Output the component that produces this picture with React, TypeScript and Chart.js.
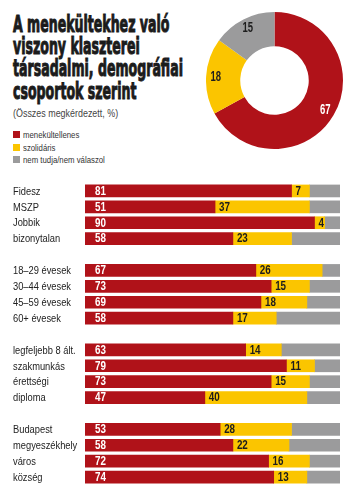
import React, { useEffect, useLayoutEffect, useRef } from "react";
import { Chart, registerables } from "chart.js";
Chart.register(...registerables);

const RED = "#b01219";
const YELLOW = "#fbc500";
const GREY = "#9b9b9c";
const SANS = '"Liberation Sans", Arial, sans-serif';
const HEAVY = '"DejaVu Sans Condensed", "DejaVu Sans", sans-serif';

const titleLines = ["A menekültekhez való", "viszony klaszterei", "társadalmi, demográfiai", "csoportok szerint"];
const subtitle = "(Összes megkérdezett, %)";
const seriesNames = ["menekültellenes", "szolidáris", "nem tudja/nem válaszol"];

const donutValues = [67, 18, 15];

const categories = [
  "Fidesz", "MSZP", "Jobbik", "bizonytalan", "",
  "18–29 évesek", "30–44 évesek", "45–59 évesek", "60+ évesek", "",
  "legfeljebb 8 ált.", "szakmunkás", "érettségi", "diploma", "",
  "Budapest", "megyeszékhely", "város", "község",
];
const antiValues = [81, 51, 90, 58, null, 67, 73, 69, 58, null, 63, 79, 73, 47, null, 53, 58, 72, 74];
const solidaryValues = [7, 37, 4, 23, null, 26, 15, 18, 17, null, 14, 11, 15, 40, null, 28, 22, 16, 13];
const unknownValues = [12, 12, 6, 19, null, 7, 12, 13, 25, null, 23, 10, 12, 13, null, 19, 20, 12, 13];

function narrowText(ctx: CanvasRenderingContext2D, text: string, x: number, y: number, sx: number, align: CanvasTextAlign) {
  ctx.save();
  ctx.translate(x, y);
  ctx.scale(sx, 1);
  ctx.textAlign = align;
  ctx.fillText(text, 0, 0);
  ctx.restore();
}

const barLabelPlugin = {
  id: "barLabels",
  afterDatasetsDraw(chart: any) {
    const ctx = chart.ctx;
    ctx.save();
    ctx.textBaseline = "middle";
    const ys = chart.scales.y;
    ctx.font = `11.8px ${SANS}`;
    ctx.fillStyle = "#222";
    chart.data.labels.forEach((lab: string, i: number) => {
      if (!lab) return;
      narrowText(ctx, lab, 13, ys.getPixelForTick(i) + 0.5, 0.79, "left");
    });
    ctx.font = `bold 12px ${SANS}`;
    [0, 1].forEach((di) => {
      const meta = chart.getDatasetMeta(di);
      const data = chart.data.datasets[di].data;
      meta.data.forEach((el: any, i: number) => {
        const v = data[i];
        if (v == null) return;
        const p = el.getProps(["x", "y", "base"], true);
        const start = Math.min(p.x, p.base);
        ctx.fillStyle = di === 0 ? "#ffffff" : "#1d1d1d";
        narrowText(ctx, String(v), start + (di === 0 ? 10 : 4), p.y + 0.5, 0.82, "left");
      });
    });
    ctx.restore();
  },
};

const donutLabelPlugin = {
  id: "donutLabels",
  afterDatasetsDraw(chart: any) {
    const ctx = chart.ctx;
    ctx.save();
    ctx.font = `bold 14px ${SANS}`;
    ctx.textBaseline = "middle";
    const meta = chart.getDatasetMeta(0);
    const data = chart.data.datasets[0].data;
    meta.data.forEach((el: any, i: number) => {
      const p = el.getProps(["x", "y", "startAngle", "endAngle", "innerRadius", "outerRadius"], true);
      const a = (p.startAngle + p.endAngle) / 2;
      const r = p.innerRadius + 0.72 * (p.outerRadius - p.innerRadius);
      ctx.fillStyle = i === 0 ? "#ffffff" : "#1d1d1d";
      narrowText(ctx, String(data[i]), p.x + Math.cos(a) * r, p.y + Math.sin(a) * r, 0.68, "center");
    });
    ctx.restore();
  },
};

export default function App() {
  const barRef = useRef<HTMLCanvasElement>(null);
  const donutRef = useRef<HTMLCanvasElement>(null);
  const titleRef = useRef<HTMLDivElement>(null);

  useLayoutEffect(() => {
    const el = titleRef.current;
    if (!el) return;
    const spans = Array.from(el.querySelectorAll("span")) as HTMLSpanElement[];
    const w = spans[2].offsetWidth;
    const s = 170 / w;
    spans.forEach((sp) => { sp.style.transform = `scaleX(${s})`; });
  }, []);

  useEffect(() => {
    const bar = new Chart(barRef.current!, {
      type: "bar",
      data: {
        labels: categories,
        datasets: [
          { label: seriesNames[0], data: antiValues, backgroundColor: RED, barThickness: 12 },
          { label: seriesNames[1], data: solidaryValues, backgroundColor: YELLOW, barThickness: 12 },
          { label: seriesNames[2], data: unknownValues, backgroundColor: GREY, barThickness: 12 },
        ],
      } as any,
      options: {
        indexAxis: "y",
        responsive: false,
        animation: false,
        maintainAspectRatio: false,
        layout: { padding: { left: 0, right: 11, top: 0, bottom: 0 } },
        plugins: { legend: { display: false }, tooltip: { enabled: false } },
        scales: {
          x: { stacked: true, min: 0, max: 100, display: false },
          y: {
            stacked: true,
            grid: { display: false },
            border: { display: false },
            afterFit: (s: any) => { s.width = 85; },
            ticks: { display: false, autoSkip: false },
          },
        },
      } as any,
      plugins: [barLabelPlugin],
    });

    const donut = new Chart(donutRef.current!, {
      type: "doughnut",
      data: {
        labels: seriesNames,
        datasets: [{ data: donutValues, backgroundColor: [RED, YELLOW, GREY], borderWidth: 0 }],
      },
      options: {
        responsive: false,
        animation: false,
        cutout: "50%",
        layout: { padding: 0 },
        plugins: { legend: { display: false }, tooltip: { enabled: false } },
      } as any,
      plugins: [donutLabelPlugin],
    });

    return () => {
      bar.destroy();
      donut.destroy();
    };
  }, []);

  return (
    <div style={{ position: "absolute", left: 0, top: 0, width: 351, height: 500, background: "#fff", overflow: "hidden" }}>
      <div ref={titleRef} style={{ position: "absolute", left: 13, top: 12.5 }}>
        {titleLines.map((t) => (
          <div key={t} style={{ height: 22.4, lineHeight: "22.4px", whiteSpace: "nowrap" }}>
            <span
              style={{
                display: "inline-block",
                fontFamily: HEAVY,
                fontWeight: 700,
                fontSize: 23,
                color: "#1b1b1b",
                transformOrigin: "left center",
                WebkitTextStroke: "1px #1b1b1b",
              }}
            >
              {t}
            </span>
          </div>
        ))}
      </div>
      <div
        style={{
          position: "absolute",
          left: 13,
          top: 106.5,
          fontFamily: SANS,
          fontSize: 10.5,
          lineHeight: "13px",
          color: "#444",
          whiteSpace: "nowrap",
          transform: "scaleX(0.85)",
          transformOrigin: "left center",
        }}
      >
        {subtitle}
      </div>
      <div style={{ position: "absolute", left: 13, top: 128.2 }}>
        {seriesNames.map((n, i) => (
          <div key={n} style={{ display: "flex", alignItems: "center", height: 12.7 }}>
            <span style={{ width: 7, height: 7, background: [RED, YELLOW, GREY][i], display: "inline-block", marginRight: 3, flex: "none" }} />
            <span
              style={{
                fontFamily: SANS,
                fontSize: 9.5,
                color: "#333",
                whiteSpace: "nowrap",
                display: "inline-block",
                transform: "scaleX(0.82)",
                transformOrigin: "left center",
              }}
            >
              {n}
            </span>
          </div>
        ))}
      </div>
      <canvas
        ref={donutRef}
        width={137}
        height={137}
        style={{ position: "absolute", left: 206, top: 12, width: 137, height: 137 }}
      />
      <canvas
        ref={barRef}
        width={351}
        height={302}
        style={{ position: "absolute", left: 0, top: 183, width: 351, height: 302 }}
      />
    </div>
  );
}
